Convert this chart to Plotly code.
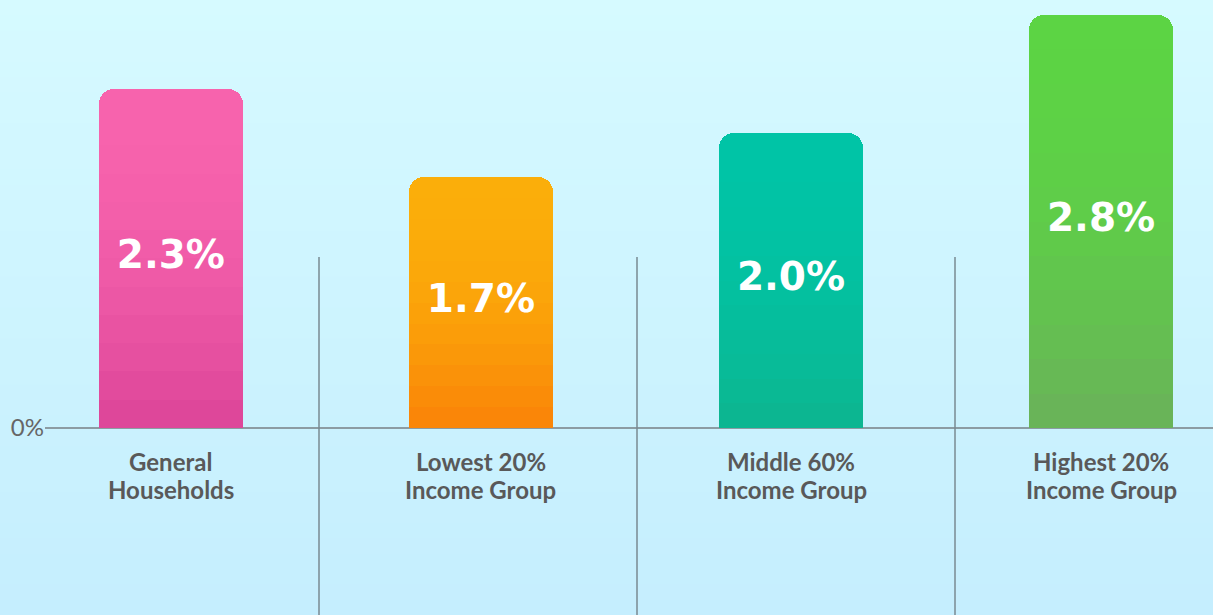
import plotly.graph_objects as go

categories = ["General<br>Households", "Lowest 20%<br>Income Group",
              "Middle 60%<br>Income Group", "Highest 20%<br>Income Group"]
values = [2.3, 1.7, 2.0, 2.8]
value_labels = ["2.3%", "1.7%", "2.0%", "2.8%"]
top_colors = ["#F763AD", "#FBAE0A", "#00C4A6", "#5CD444"]
bottom_colors = ["#DC4498", "#FA8208", "#0DB58F", "#6AB15A"]

W, H = 1213, 615
N_SEG = 12


def hex2rgb(h):
    h = h.lstrip("#")
    return [int(h[i:i + 2], 16) for i in (0, 2, 4)]


def mix(c1, c2, t):
    a, b = hex2rgb(c1), hex2rgb(c2)
    return "rgb({},{},{})".format(*[round(a[i] + (b[i] - a[i]) * t) for i in range(3)])


fig = go.Figure()

# bars built from stacked slices to render a vertical gradient
for k in range(N_SEG):
    t_from_top = 1 - (k + 0.5) / N_SEG
    m = t_from_top ** 2
    cols = [mix(tc, bc, m) for tc, bc in zip(top_colors, bottom_colors)]
    fig.add_trace(go.Bar(
        x=categories, y=[v / N_SEG for v in values],
        marker=dict(color=cols, line=dict(width=0), cornerradius=15 if k == 0 else None),
        width=0.4645, hoverinfo="skip", showlegend=False,
    ))

fig.add_trace(go.Scatter(
    x=categories, y=[v / 2 for v in values], text=value_labels, mode="text",
    textfont=dict(family="DejaVu Sans", size=39, color="white", weight="bold"),
    hoverinfo="skip", showlegend=False,
))

shapes = []
# background vertical gradient
n_bands = 40
l_frac = 45 / (W - 45)
for i in range(n_bands):
    y0 = i / n_bands
    y1 = (i + 1) / n_bands
    t = 1 - (i + 0.5) / n_bands
    shapes.append(dict(type="rect", xref="paper", yref="paper",
                       x0=-l_frac - 0.01, x1=1.01, y0=y0, y1=y1 + 0.002,
                       fillcolor=mix("#D6FAFF", "#C5EEFE", t),
                       line=dict(width=0), layer="below"))
# separators
for px in (319, 637, 955):
    xp = (px - 45) / (W - 45)
    shapes.append(dict(type="line", xref="paper", yref="paper",
                       x0=xp, x1=xp, y0=0, y1=(H - 257) / H,
                       line=dict(color="rgba(120,138,146,0.75)", width=2),
                       layer="above"))

annotations = []
for c in categories:
    for j, line in enumerate(c.split("<br>")):
        annotations.append(dict(x=c, y=0, xref="x", yref="y", text=line, showarrow=False,
                                yanchor="middle", yshift=-34 - 28 * j,
                                font=dict(family="Lato", size=24, color="#595959", weight="bold")))

fig.update_layout(
    width=W, height=H,
    margin=dict(l=45, r=0, t=0, b=0),
    barmode="stack", bargap=0,
    paper_bgcolor="#CFF4FE", plot_bgcolor="rgba(0,0,0,0)",
    shapes=shapes, annotations=annotations,
    xaxis=dict(type="category", range=[-0.406, 3.361], showticklabels=False,
               showgrid=False, zeroline=False, showline=False, fixedrange=True),
    yaxis=dict(range=[-1.268, 2.902], tickvals=[0], ticktext=["0%"],
               showgrid=False, zeroline=True, zerolinecolor="#8C9CA3", zerolinewidth=2,
               showline=False, ticks="",
               tickfont=dict(family="Lato", size=24, color="#666666"), fixedrange=True),
    showlegend=False,
)

fig.write_html("out.html", config={"displayModeBar": False},
               post_script="document.body.style.margin='0';document.body.style.padding='0';")
